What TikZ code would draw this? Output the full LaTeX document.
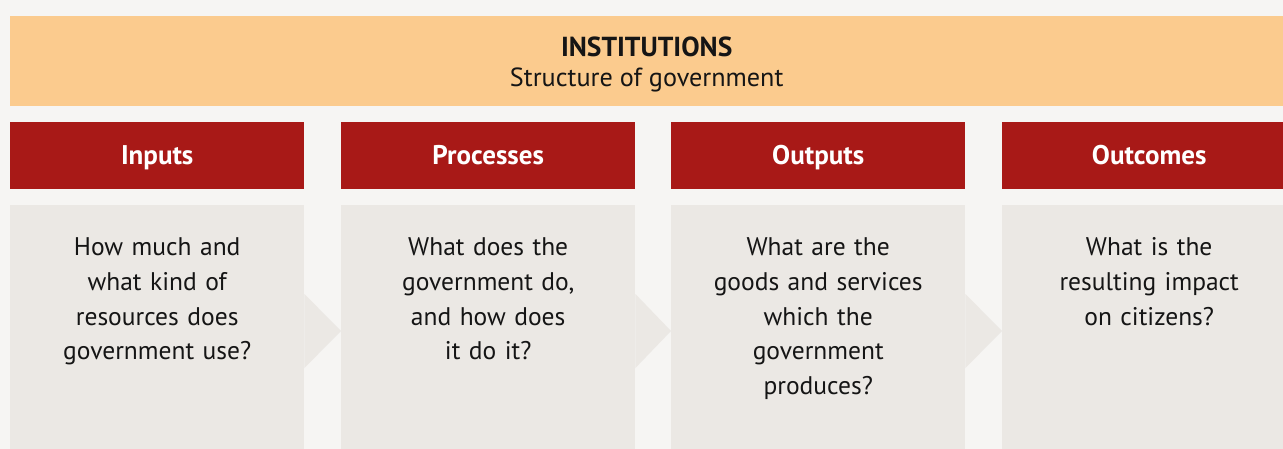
\documentclass[tikz,border=0pt]{standalone}
\usepackage{fontspec}
\setmainfont{PT Sans}
\usetikzlibrary{calc}
\definecolor{bgc}{HTML}{F6F5F3}
\definecolor{bandc}{HTML}{FBCB8E}
\definecolor{headc}{HTML}{A81917}
\definecolor{cellc}{HTML}{EBE8E4}
\definecolor{txtc}{HTML}{151515}
\begin{document}
\begin{tikzpicture}[x=1pt,y=-1pt,
  band/.style={fill=bandc,inner sep=0pt,minimum width=1273pt,minimum height=90pt,anchor=north west},
  bandtext/.style={anchor=base,inner sep=0pt,text=txtc},
  head/.style={fill=headc,inner sep=0pt,minimum width=294pt,minimum height=67pt,anchor=north west},
  headtext/.style={anchor=base,inner sep=0pt,text=white,font=\fontsize{27}{30}\selectfont\bfseries},
  cell/.style={fill=cellc,inner sep=0pt,minimum width=294pt,minimum height=244pt,anchor=north west},
  celltext/.style={anchor=base,inner sep=0pt,align=center,text width=290pt,text=txtc,
    font=\fontsize{25.5}{34.6}\selectfont},
  chevron/.style={fill=cellc}]
\useasboundingbox (0,0) rectangle (1283,449);
\fill[bgc] (0,0) rectangle (1283,449);

% top band
\node[band] (band) at (10,16) {};
\node[bandtext,font=\fontsize{27.5}{30}\selectfont\bfseries] (title) at ($(band.north)+(0,41)$) {INSTITUTIONS};
\node[bandtext,font=\fontsize{26.2}{28}\selectfont] (subtitle) at ($(band.north)+(0,71)$) {Structure of government};

% column headers
\node[head] (h1) at (10,122) {};
\node[head] (h2) at (341,122) {};
\node[head] (h3) at (671,122) {};
\node[head,minimum width=281pt] (h4) at (1002,122) {};
\node[headtext] (l1) at ($(h1.north)+(0,43)$) {Inputs};
\node[headtext] (l2) at ($(h2.north)+(0,43)$) {Processes};
\node[headtext] (l3) at ($(h3.north)+(0,43)$) {Outputs};
\node[headtext] (l4) at ($(h4.north)+(6.5,43)$) {Outcomes};

% cells
\node[cell] (c1) at (10,205) {};
\node[cell] (c2) at (341,205) {};
\node[cell] (c3) at (671,205) {};
\node[cell,minimum width=281pt] (c4) at (1002,205) {};

% chevrons between cells
\foreach \a/\b in {c1/c2,c2/c3,c3/c4}{
  \fill[chevron] ($(\a.north east)+(0,89)$) -- ($(\b.north west)+(0,126)$) -- ($(\a.north east)+(0,163)$) -- cycle;
}

% cell texts
\node[celltext] (t1) at ($(c1.north)+(0,51)$) {How much and\\what kind of\\resources does\\government use?};
\node[celltext] (t2) at ($(c2.north)+(0,51)$) {What does the\\government do,\\and how does\\it do it?};
\node[celltext] (t3) at ($(c3.north)+(0,51)$) {What are the\\goods and services\\which the\\government\\produces?};
\node[celltext] (t4) at ($(c4.north)+(6.5,51)$) {What is the\\resulting impact\\on citizens?};
\end{tikzpicture}
\end{document}
